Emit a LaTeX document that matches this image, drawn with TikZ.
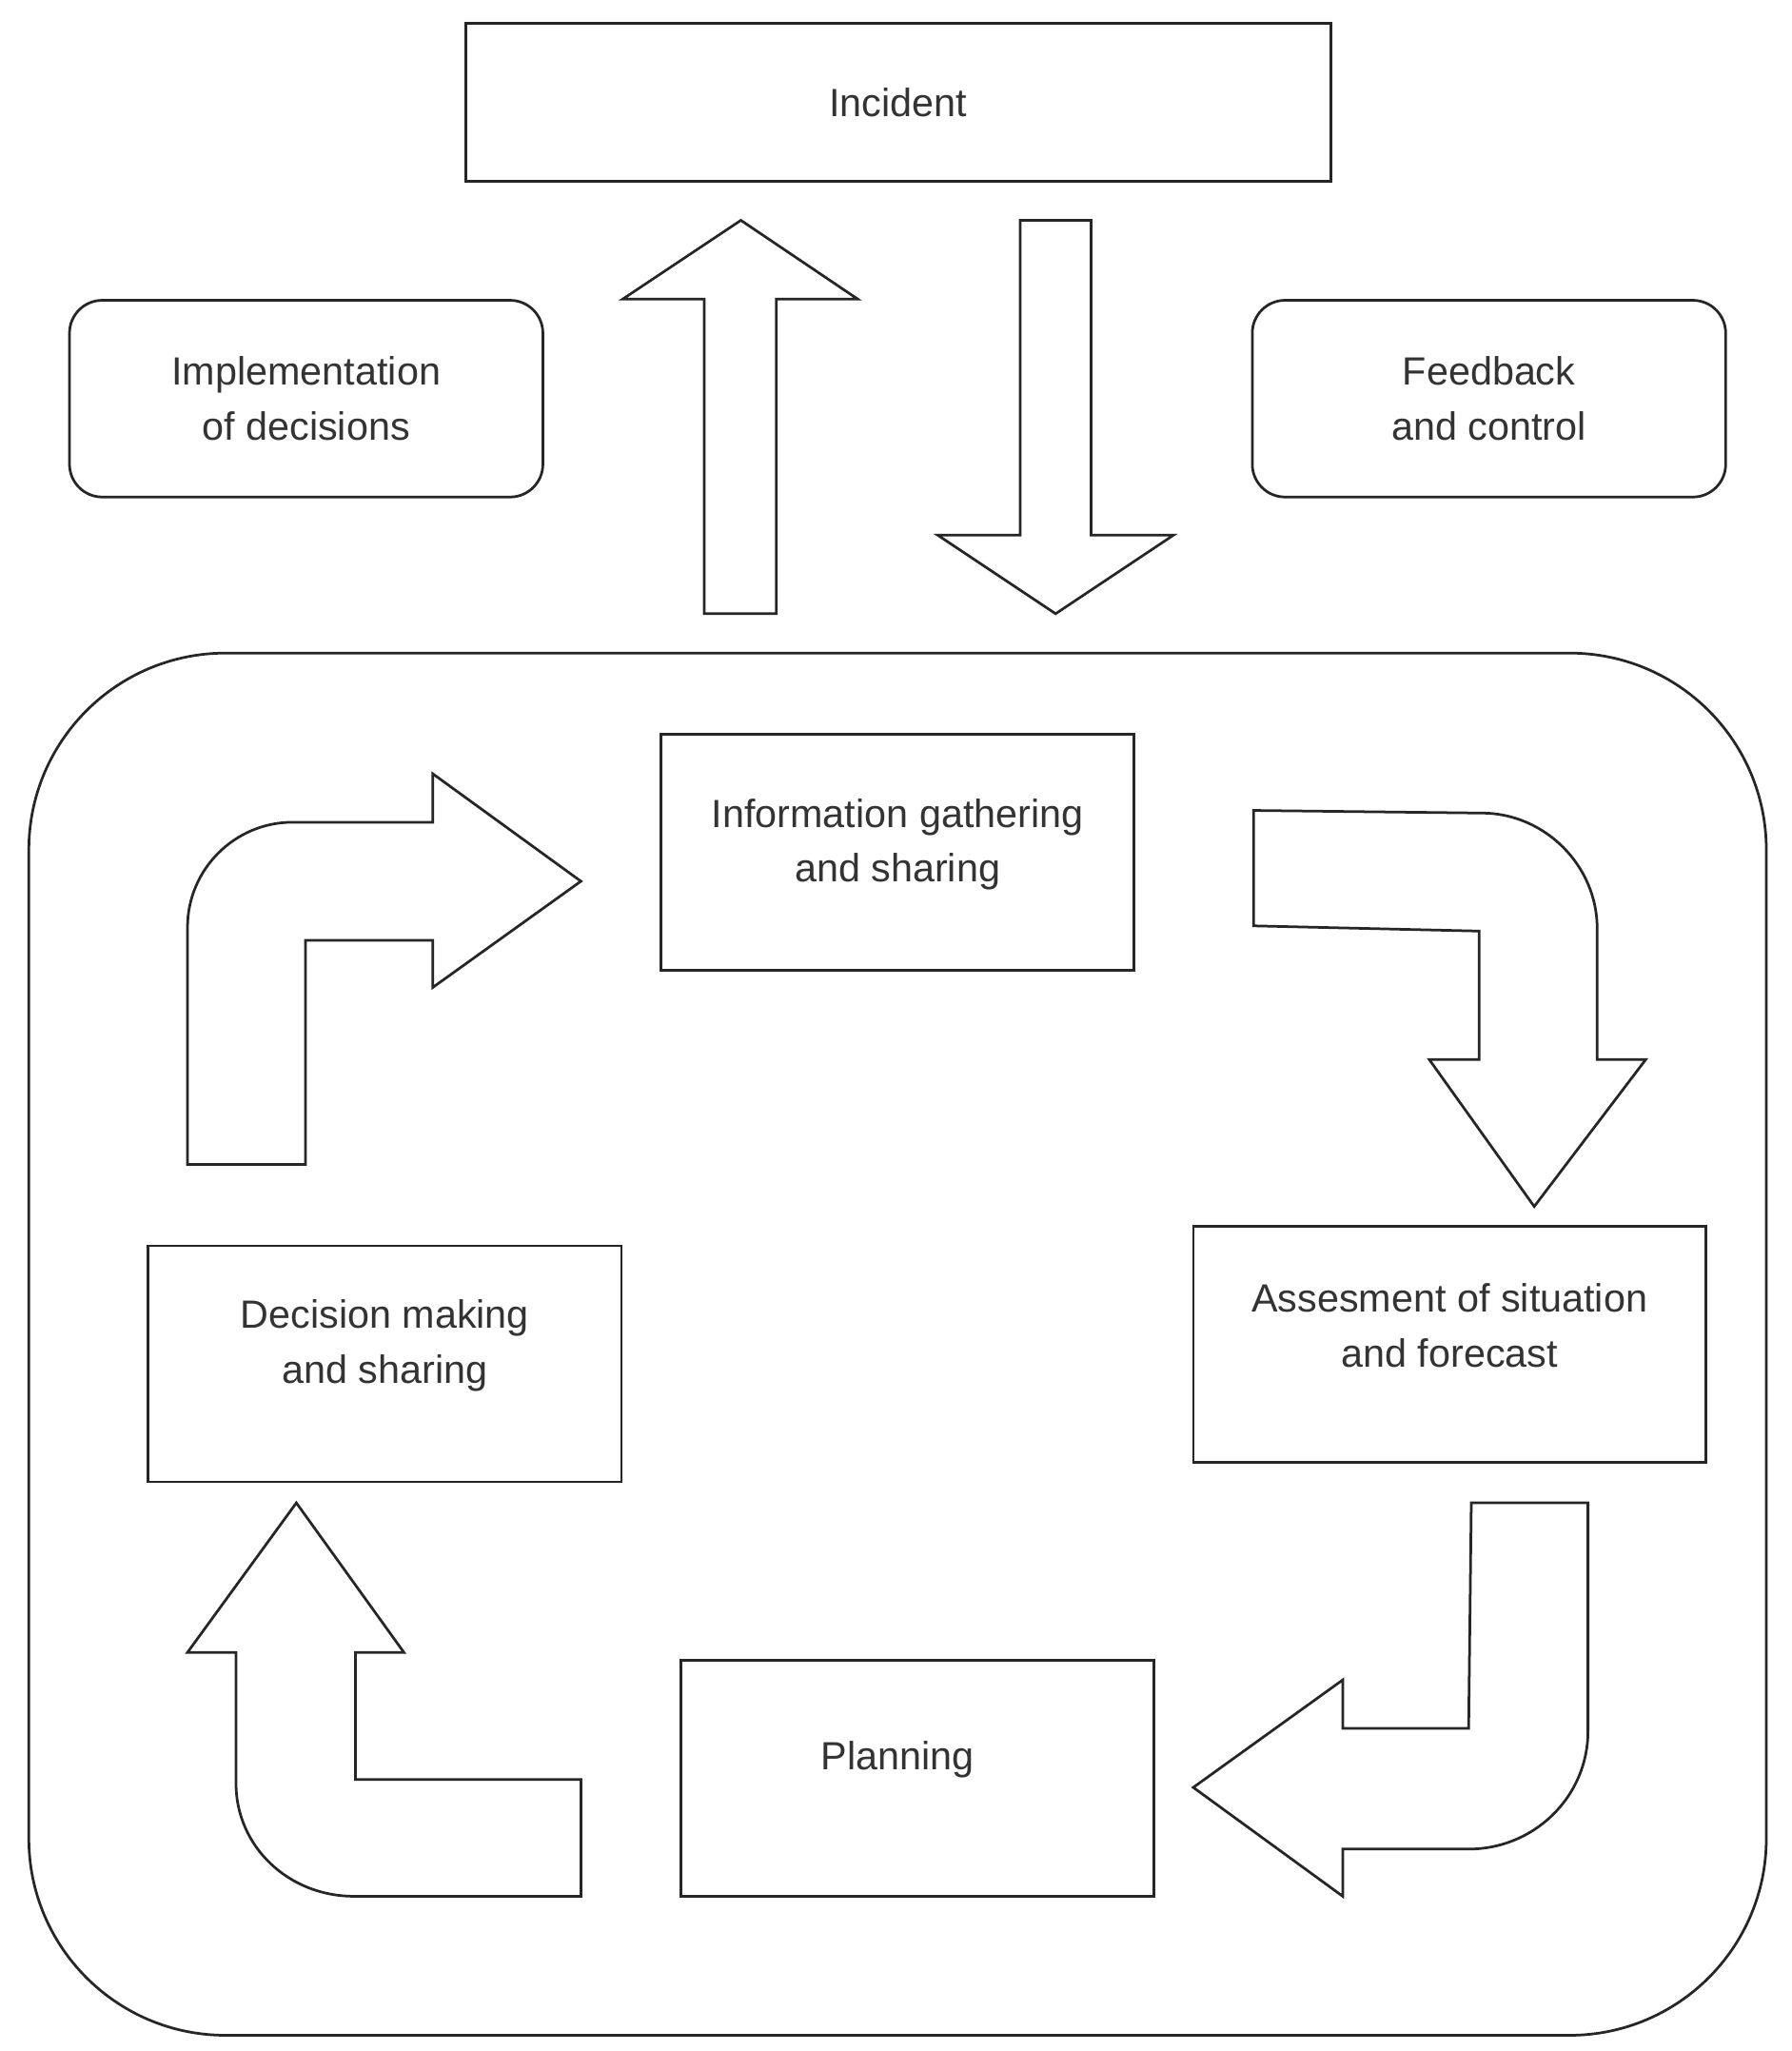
\documentclass[tikz,border=0pt]{standalone}
\usepackage{fontspec}
\setmainfont{Liberation Sans}
\begin{document}
\begin{tikzpicture}[x=1pt,y=-1pt,line width=2pt,
  every node/.style={font=\fontsize{30}{42}\selectfont,text=black!80,align=center},
  box/.style={draw=black!85,inner sep=0pt},
  blk/.style={draw=black!85,line join=miter}]
\useasboundingbox (0,0) rectangle (1366,1564);
\draw[blk,rounded corners=150pt] (22,498) rectangle (1347,1552);
\node[box,minimum width=660pt,minimum height=120pt] (inc) at (685,78) {};
\node (incT) at (inc.center) {Incident};
\node[box,rounded corners=25pt,minimum width=361pt,minimum height=150pt] (impl) at (233.5,304) {};
\node (implT) at (impl.center) {Implementation\\of decisions};
\node[box,rounded corners=25pt,minimum width=361pt,minimum height=150pt] (fb) at (1135.5,304) {};
\node (fbT) at (fb.center) {Feedback\\and control};
\node[box,minimum width=361pt,minimum height=180pt] (info) at (684.5,650) {};
\node (infoT) at ([yshift=6pt]info.center) {Information gathering\\and sharing};
\node[box,minimum width=391pt,minimum height=180pt] (ass) at (1105.5,1025) {};
\node (assT) at ([yshift=14pt]ass.center) {Assesment of situation\\and forecast};
\node[box,minimum width=361pt,minimum height=180pt] (dec) at (293.5,1040) {};
\node (decT) at ([yshift=14pt]dec.center) {Decision making\\and sharing};
\node[box,minimum width=361pt,minimum height=180pt] (plan) at (699.5,1356) {};
\node (planT) at ([xshift=-15pt,yshift=14pt]plan.center) {Planning};
% straight arrows
\draw[blk] (537,468) -- (537,228) -- (475,228) -- (565,168) -- (654,228) -- (592,228) -- (592,468) -- cycle;
\draw[blk] (778,168) -- (832,168) -- (832,408) -- (895,408) -- (805,468) -- (715,408) -- (778,408) -- cycle;
% bent arrows
\draw[blk] (143,888) -- (143,707) .. controls (143,663) and (179,627) .. (223,627) -- (330,627) -- (330,590) -- (443,672) -- (330,753) -- (330,717) -- (233,717) -- (233,888) -- cycle;
\draw[blk] (956,618) -- (1130,620) .. controls (1178,620) and (1218,660) .. (1218,708) -- (1218,808) -- (1255,808) -- (1170,920) -- (1090,808) -- (1128,808) -- (1128,710) -- (956,706) -- cycle;
\draw[blk] (1122,1146) -- (1211,1146) -- (1211,1320) .. controls (1211,1370) and (1170,1410) .. (1120,1410) -- (1024,1410) -- (1024,1446) -- (910,1363) -- (1024,1281) -- (1024,1318) -- (1120,1318) -- cycle;
\draw[blk] (443,1446) -- (443,1357) -- (271,1357) -- (271,1260) -- (308,1260) -- (226,1146) -- (143,1260) -- (180,1260) -- (180,1360) .. controls (180,1408) and (220,1446) .. (270,1446) -- cycle;
\end{tikzpicture}
\end{document}
